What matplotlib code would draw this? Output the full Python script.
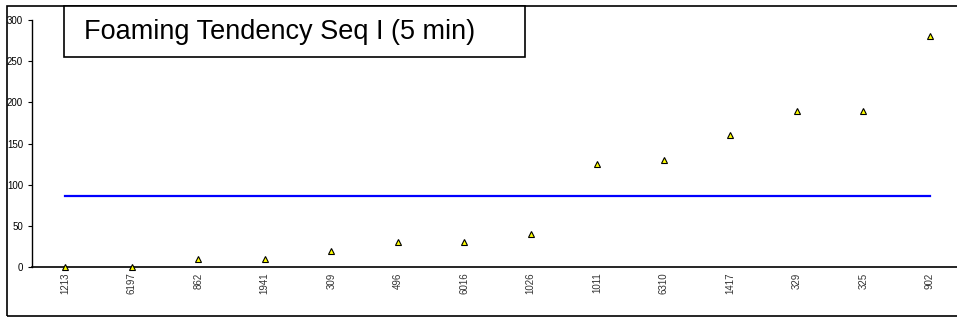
import numpy as np
import matplotlib
matplotlib.use('Agg')
import matplotlib.pyplot as plt
from matplotlib.patches import Rectangle

plt.rcParams['font.family'] = ['Liberation Sans', 'DejaVu Sans']

# data
samples = ['1213', '6197', '862', '1941', '309', '496', '6016', '1026',
           '1011', '6310', '1417', '329', '325', '902']
foam = [0, 0, 10, 10, 20, 30, 30, 40, 125, 130, 160, 190, 190, 280]
limit = 86

W, H = 957, 320
fig = plt.figure(figsize=(W/100, H/100), dpi=100)

# outer frame
fig.patches.append(Rectangle((7/W, 1 - 316/H), 1.2, (316-6)/H, transform=fig.transFigure,
                             fill=False, edgecolor='black', linewidth=1.2))

# axes: left x=32, right ~963, y0 at 267, y300 at 20
ax = fig.add_axes([32/W, 1 - 267/H, (963-32)/W, (267-20)/H])
x = np.arange(len(samples))
ax.plot(x, foam, linestyle='none', marker='^', markersize=5, clip_on=False, zorder=4,
        markerfacecolor='#ffff00', markeredgecolor='black', markeredgewidth=0.8)
ax.plot([x[0], x[-1]], [limit, limit], color='#0000ff', linewidth=1.6)

ax.set_xlim(-0.5, len(samples) - 0.5)
ax.set_ylim(0, 300)
ax.set_yticks(range(0, 301, 50))
ax.set_xticks(x)
ax.set_xticklabels(samples, rotation=90, fontsize=7, color='#333333')
ax.tick_params(axis='x', length=0, pad=4)
ax.tick_params(axis='y', labelsize=7, length=3, direction='out', width=0.8)
for s in ['top', 'right']:
    ax.spines[s].set_visible(False)
ax.spines['left'].set_linewidth(1)
ax.spines['bottom'].set_linewidth(1.2)
ax.set_facecolor('none')

# title box
fig.patches.append(Rectangle((64/W, 1 - 57/H), (525-64)/W, (57-6)/H, transform=fig.transFigure,
                             facecolor='white', edgecolor='black', linewidth=1.2, zorder=5))
fig.text(84/W, 1 - 32/H, 'Foaming Tendency Seq I (5 min)', fontsize=19.5,
         ha='left', va='center', zorder=6)

fig.savefig('out.png', dpi=100)
